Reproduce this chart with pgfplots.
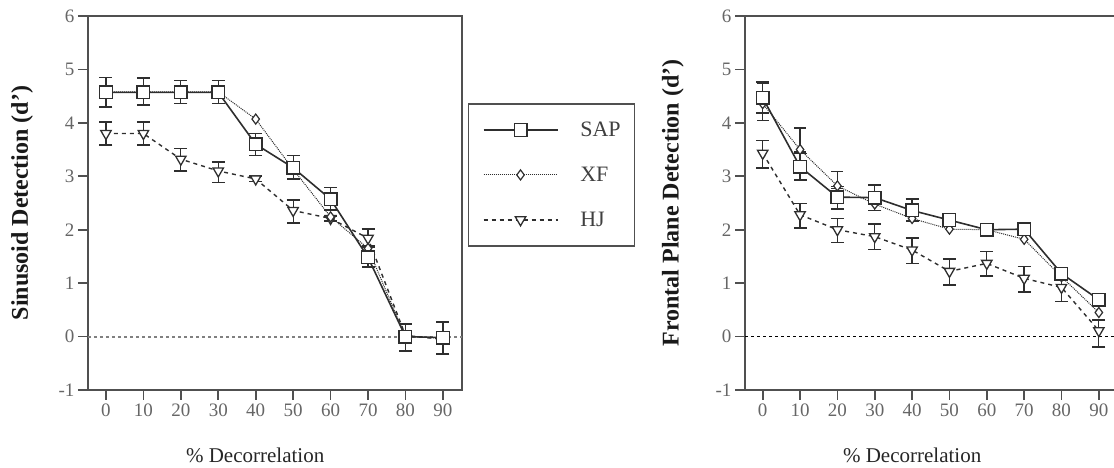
\documentclass[border=0pt]{standalone}
\usepackage{fontspec}
\setmainfont{Liberation Serif}
\usepackage{pgfplots}
\pgfplotsset{compat=1.18}
\definecolor{ln}{HTML}{2E2E2E}
\definecolor{ax}{HTML}{505050}
\definecolor{tl}{HTML}{666666}
\pgfplotsset{
  myaxis/.style={
    scale only axis, width=374pt, height=374pt,
    ymin=-1, ymax=6, ytick={-1,0,...,6},
    xtick={0,10,...,90},
    tick align=outside, xtick pos=left, ytick pos=left,
    major tick length=10pt,
    axis line style={line width=1.7pt, draw=ax},
    tick style={line width=1.7pt, draw=ax},
    tick label style={font=\fontsize{19}{19}\selectfont, text=tl},
    /pgf/number format/assume math mode=true,
    xlabel={\% Decorrelation},
    xlabel style={font=\fontsize{21}{21}\selectfont, text=black!85, anchor=center},
    ylabel style={font=\bfseries\fontsize{24}{24}\selectfont, text=black!90, anchor=center},
    clip=false,
  },
  sap/.style={ln, line width=1.6pt, mark=square*, mark size=6.3pt,
    mark options={fill=white, solid, line width=1.4pt},
    error bars/.cd, y dir=both, y explicit, error mark=|,
    error bar style={line width=1.3pt, solid},
    error mark options={line width=1.6pt, mark size=6.5pt, solid}},
  xf/.style={ln, line width=1pt, dash pattern=on 1pt off 1pt, mark=diamond*, mark size=5pt,
    mark options={fill=white, solid, line width=1.2pt}},
  hj/.style={ln, line width=1.4pt, dash pattern=on 4pt off 4pt, mark=triangle*, mark size=6pt,
    mark options={fill=white, solid, line width=1.3pt, rotate=180},
    error bars/.cd, y dir=both, y explicit, error mark=|,
    error bar style={line width=1.3pt, solid},
    error mark options={line width=1.6pt, mark size=6.5pt, solid}},
  xfbars/.style={ln, only marks, mark=none, forget plot,
    error bars/.cd, y dir=both, y explicit, error mark=|,
    error bar style={line width=1.2pt, solid},
    error mark options={line width=1.5pt, mark size=6pt, solid}},
}
\begin{document}
\begin{tikzpicture}
\useasboundingbox (0,0) rectangle (1114pt,468pt);
% ---------------- left panel ----------------
\begin{axis}[myaxis, at={(88pt,78pt)}, anchor=south west,
  xmin=-4.8, xmax=95.1,
  ylabel={Sinusoid Detection (d')},
  ylabel style={at={(axis description cs:-0.176,0.5)}},
  xlabel style={at={(axis description cs:0.447,-0.174)}},
  reverse legend,
  legend cell align=left,
  legend image code/.code={\draw[mark repeat=2,mark phase=2,#1] plot coordinates {(0pt,0pt) (37pt,0pt) (74pt,0pt)};},
  legend style={at={(axis description cs:1.016,0.767)}, anchor=north west,
    draw=ax, line width=1.5pt, inner xsep=14pt, inner ysep=18pt,
    row sep=29pt, font=\fontsize{22}{22}\selectfont, text=black!75,
    nodes={inner sep=0pt},
    /tikz/every odd column/.append style={column sep=22pt}},
]
\addplot[forget plot, black!50, line width=2pt, dash pattern=on 3pt off 3pt]
  coordinates {(-4.8,0) (95.1,0)};
\addplot[hj] coordinates {
  (0,3.80) += (0,0.22) -= (0,0.21)
  (10,3.80) += (0,0.22) -= (0,0.21)
  (20,3.32) += (0,0.20) -= (0,0.22)
  (30,3.10) += (0,0.17) -= (0,0.22)
  (40,2.95) += (0,0.05) -= (0,0.05)
  (50,2.36) += (0,0.20) -= (0,0.23)
  (60,2.21) += (0,0.05) -= (0,0.05)
  (70,1.84) += (0,0.17) -= (0,0.15)
  (80,0.02) += (0,0.05) -= (0,0.05)
  (90,-0.05) += (0,0.05) -= (0,0.05)
};
\addlegendentry{HJ}
\addplot[xf] coordinates {
  (0,4.58) (10,4.58) (20,4.58) (30,4.58) (40,4.07) (50,3.13)
  (60,2.24) (70,1.65) (80,0.00) (90,-0.03)
};
\addlegendentry{XF}
\addplot[sap] coordinates {
  (0,4.57) += (0,0.28) -= (0,0.27)
  (10,4.57) += (0,0.27) -= (0,0.24)
  (20,4.57) += (0,0.22) -= (0,0.21)
  (30,4.57) += (0,0.22) -= (0,0.21)
  (40,3.60) += (0,0.20) -= (0,0.21)
  (50,3.16) += (0,0.23) -= (0,0.21)
  (60,2.57) += (0,0.22) -= (0,0.20)
  (70,1.48) += (0,0.20) -= (0,0.18)
  (80,0.00) += (0,0.23) -= (0,0.27)
  (90,-0.02) += (0,0.29) -= (0,0.31)
};
\addlegendentry{SAP}
\end{axis}
% ---------------- right panel ----------------
\begin{axis}[myaxis, at={(745pt,78pt)}, anchor=south west,
  xmin=-4.74, xmax=95.4,
  ylabel={Frontal Plane Detection (d')},
  ylabel style={at={(axis description cs:-0.193,0.5)}},
  xlabel style={at={(axis description cs:0.447,-0.174)}},
]
\addplot[forget plot, black, line width=1.6pt, dash pattern=on 3pt off 3pt]
  coordinates {(-4.74,0) (95.4,0)};
\addplot[xfbars] coordinates {
  (0,4.36) += (0,0.38) -= (0,0.32)
  (10,3.50) += (0,0.40) -= (0,0.05)
  (20,2.82) += (0,0.27) -= (0,0.05)
};
\addplot[hj] coordinates {
  (0,3.43) += (0,0.24) -= (0,0.28)
  (10,2.28) += (0,0.21) -= (0,0.25)
  (20,2.00) += (0,0.21) -= (0,0.24)
  (30,1.87) += (0,0.24) -= (0,0.24)
  (40,1.62) += (0,0.23) -= (0,0.25)
  (50,1.22) += (0,0.23) -= (0,0.25)
  (60,1.37) += (0,0.22) -= (0,0.24)
  (70,1.09) += (0,0.22) -= (0,0.26)
  (80,0.92) += (0,0.20) -= (0,0.26)
  (90,0.11) += (0,0.20) -= (0,0.30)
};
\addplot[xf] coordinates {
  (0,4.36) (10,3.50) (20,2.82) (30,2.48) (40,2.21) (50,2.01)
  (60,2.00) (70,1.82) (80,1.12) (90,0.45)
};
\addplot[sap] coordinates {
  (0,4.47) += (0,0.30) -= (0,0.29)
  (10,3.18) += (0,0.25) -= (0,0.25)
  (20,2.61) += (0,0.20) -= (0,0.22)
  (30,2.60) += (0,0.24) -= (0,0.24)
  (40,2.36) += (0,0.21) -= (0,0.20)
  (50,2.18) += (0,0.10) -= (0,0.10)
  (60,2.00) += (0,0.12) -= (0,0.10)
  (70,2.01) += (0,0.10) -= (0,0.10)
  (80,1.18) += (0,0.10) -= (0,0.10)
  (90,0.69) += (0,0.10) -= (0,0.10)
};
\end{axis}
\end{tikzpicture}
\end{document}
